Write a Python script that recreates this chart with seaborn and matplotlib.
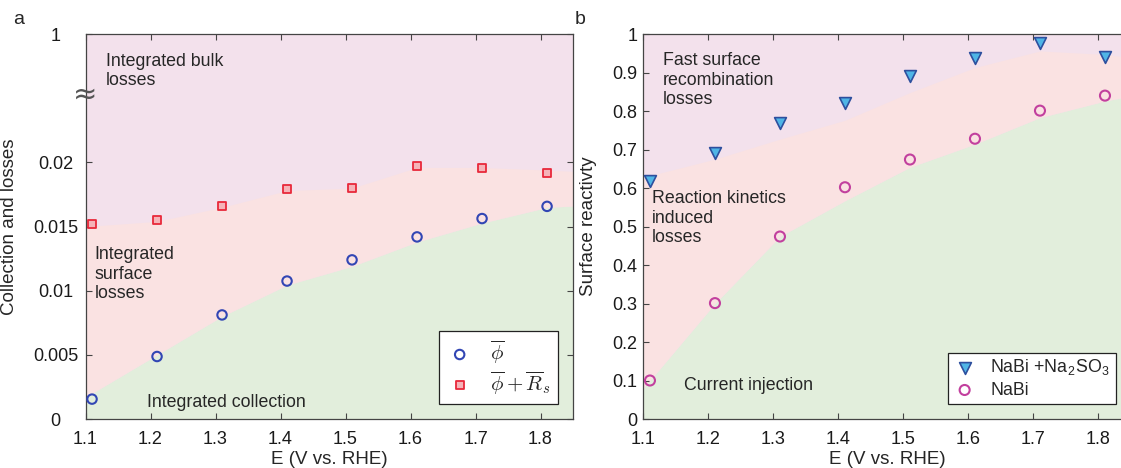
# -*- coding: utf-8 -*-
# Collection / surface reactivity vs potential, two panels (a, b)
import numpy as np
import pandas as pd
import matplotlib
matplotlib.use('Agg')
import matplotlib.pyplot as plt
import seaborn as sns

sns.set_theme(style='ticks')
plt.rcParams['font.family'] = ['Liberation Sans', 'DejaVu Sans']
plt.rcParams['mathtext.fontset'] = 'cm'

# ==================== data ====================
E = [1.11, 1.21, 1.31, 1.41, 1.51, 1.61, 1.71, 1.81]

# panel a
phi = [0.00155, 0.00487, 0.00811, 0.01075, 0.0124, 0.01419, 0.01562, 0.01657]
phi_rs = [0.01519, 0.01554, 0.01662, 0.01789, 0.01800, 0.01973, 0.01959, 0.01919]

# panel b
nabi_so3 = [0.617, 0.690, 0.768, 0.822, 0.891, 0.939, 0.976, 0.940]
nabi = [0.100, 0.301, 0.474, 0.602, 0.674, 0.728, 0.801, 0.840]

# shaded region boundaries
E_shade = [1.10, 1.21, 1.31, 1.41, 1.51, 1.61, 1.71, 1.81, 1.85]
a_collect = [0.0017, 0.0050, 0.0080, 0.01044, 0.0119, 0.0138, 0.01527, 0.01649, 0.0166]
a_surface = [0.0150, 0.0154, 0.0165, 0.0178, 0.0180, 0.0196, 0.0196, 0.0194, 0.0193]
b_inject = [0.08, 0.30, 0.474, 0.567, 0.654, 0.714, 0.783, 0.826, 0.839]
b_kinetic = [0.628, 0.675, 0.727, 0.776, 0.848, 0.913, 0.956, 0.947, 0.939]

a_yticks = [0, 0.005, 0.01, 0.015, 0.02, 0.03]
a_yticklabels = ['0', '0.005', '0.01', '0.015', '0.02', '1']
x_ticks = [1.1, 1.2, 1.3, 1.4, 1.5, 1.6, 1.7, 1.8]

df_a = pd.DataFrame({'E': E, 'phi': phi, 'phi_rs': phi_rs})
df_b = pd.DataFrame({'E': E, 'so3': nabi_so3, 'nabi': nabi})

C_BULK = '#f3e1ec'
C_SURF = '#fae2e2'
C_COLL = '#e2eedc'
C_SPINE = '#444444'

fig = plt.figure(figsize=(11.21, 4.68), dpi=100)
ax1 = fig.add_axes([0.0763, 0.1047, 0.4349, 0.8226])
ax2 = fig.add_axes([0.574, 0.1047, 0.4349, 0.8226])

# ==================== panel a ====================
ax1.set_facecolor(C_BULK)
ax1.fill_between(E_shade, 0, a_collect, color=C_COLL, lw=0, zorder=0)
ax1.fill_between(E_shade, a_collect, a_surface, color=C_SURF, lw=0, zorder=0)
sns.scatterplot(data=df_a, x='E', y='phi', ax=ax1, marker='o', s=46,
                facecolor='none', edgecolor='#3246b4', linewidth=1.5,
                label=r'$\overline{\phi}$', zorder=3)
sns.scatterplot(data=df_a, x='E', y='phi_rs', ax=ax1, marker='s', s=34,
                facecolor='#f5b3b8', edgecolor='#e8283a', linewidth=1.3,
                label=r'$\overline{\phi}+\overline{R}_s$', zorder=3)
ax1.set_xlim(1.1, 1.85)
ax1.set_ylim(0, 0.03)
ax1.set_xticks(x_ticks)
ax1.set_xticklabels([f'{v:.1f}' for v in x_ticks])
ax1.set_yticks(a_yticks)
ax1.set_yticklabels(a_yticklabels, ha='center')
ax1.tick_params(axis='y', pad=21.6)
ax1.set_ylabel('Collection and losses', fontsize=13.5)
ax1.yaxis.set_label_coords(-0.138, 0.5)
ax1.text(0, 0.0253, '≈', transform=ax1.get_yaxis_transform(), ha='center',
         va='center', fontsize=21, color='#555555', family='DejaVu Sans',
         clip_on=False, zorder=5)

ax1.text(0.042, 0.951, 'Integrated bulk\nlosses', transform=ax1.transAxes,
         ha='left', va='top', fontsize=12.8)
ax1.text(0.019, 0.449, 'Integrated\nsurface\nlosses', transform=ax1.transAxes,
         ha='left', va='top', fontsize=12.8)
ax1.text(0.126, 0.044, 'Integrated collection', transform=ax1.transAxes,
         ha='left', va='center', fontsize=12.8)

leg = ax1.legend(loc='lower right', bbox_to_anchor=(0.969, 0.039),
                 borderaxespad=0, fontsize=15, fancybox=False, framealpha=1,
                 edgecolor='#222222', handlelength=1.3, handletextpad=0.8,
                 borderpad=0.35, labelspacing=0.15)
leg.get_frame().set_linewidth(0.9)

# ==================== panel b ====================
ax2.set_facecolor(C_BULK)
ax2.fill_between(E_shade, 0, b_inject, color=C_COLL, lw=0, zorder=0)
ax2.fill_between(E_shade, b_inject, b_kinetic, color=C_SURF, lw=0, zorder=0)
sns.scatterplot(data=df_b, x='E', y='so3', ax=ax2, marker='v', s=72,
                facecolor='#4fb5e6', edgecolor='#2d4f9e', linewidth=1.2,
                label=r'NaBi +Na$_\mathregular{2}$SO$_\mathregular{3}$', zorder=3)
sns.scatterplot(data=df_b, x='E', y='nabi', ax=ax2, marker='o', s=52,
                facecolor='none', edgecolor='#c2409e', linewidth=1.5,
                label='NaBi', zorder=3)
ax2.set_xlim(1.1, 1.85)
ax2.set_ylim(0, 1)
ax2.set_xticks(x_ticks)
ax2.set_xticklabels([f'{v:.1f}' for v in x_ticks])
ax2.set_yticks(np.round(np.arange(0, 1.01, 0.1), 1))
ax2.set_yticklabels(['0'] + [f'{v:.1f}' for v in np.arange(0.1, 0.95, 0.1)] + ['1'])
ax2.tick_params(axis='y', pad=4.5)
ax2.set_ylabel('Surface reactivty', fontsize=13.5)
ax2.yaxis.set_label_coords(-0.095, 0.5)

ax2.text(0.040, 0.953, 'Fast surface\nrecombination\nlosses',
         transform=ax2.transAxes, ha='left', va='top', fontsize=12.8)
ax2.text(0.017, 0.595, 'Reaction kinetics\ninduced\nlosses',
         transform=ax2.transAxes, ha='left', va='top', fontsize=12.8)
ax2.text(0.083, 0.088, 'Current injection', transform=ax2.transAxes,
         ha='left', va='center', fontsize=12.8)

leg2 = ax2.legend(loc='lower right', bbox_to_anchor=(0.969, 0.039),
                  borderaxespad=0, fontsize=12.8, fancybox=False, framealpha=1,
                  edgecolor='#222222', handlelength=1.3, handletextpad=0.8,
                  borderpad=0.3, labelspacing=0.2)
leg2.get_frame().set_linewidth(0.9)

# ==================== common styling ====================
for ax in (ax1, ax2):
    ax.tick_params(direction='in', top=True, right=True, length=4, width=0.8,
                   colors=C_SPINE, labelcolor='#1a1a1a', labelsize=13)
    ax.tick_params(axis='x', pad=8.6)
    ax.set_xlabel('E (V vs. RHE)', fontsize=13.5)
    ax.xaxis.set_label_coords(0.5, -0.082)
    for sp in ax.spines.values():
        sp.set_color(C_SPINE)
        sp.set_linewidth(0.9)
    ax.grid(False)

fig.text(19 / 1121, 1 - 19 / 468, 'a', ha='center', va='center', fontsize=14)
fig.text(580 / 1121, 1 - 19 / 468, 'b', ha='center', va='center', fontsize=14)

plt.savefig('out.png', dpi=100)
plt.close()
